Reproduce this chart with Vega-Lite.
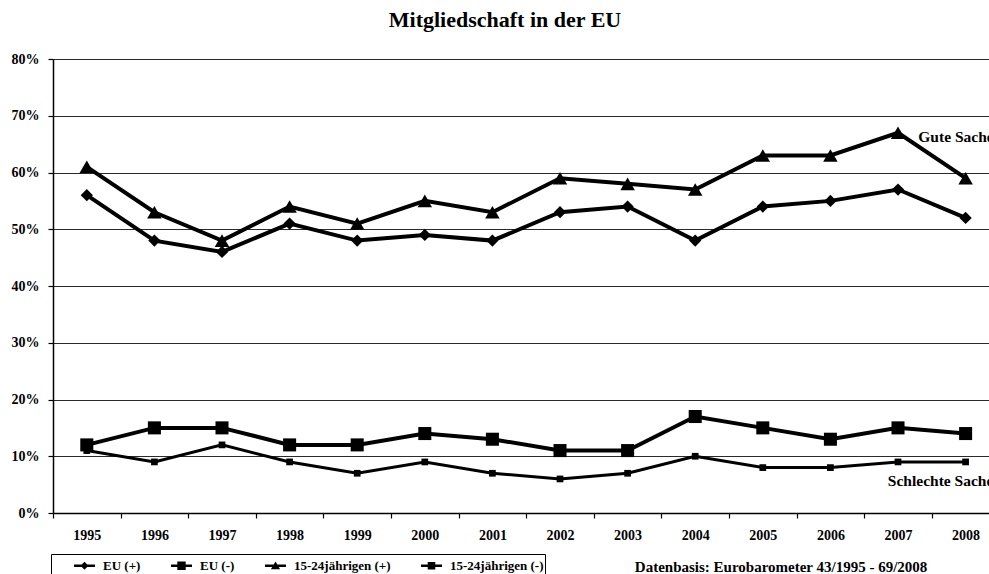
{
  "$schema": "https://vega.github.io/schema/vega-lite/v6.json",
  "width": 936,
  "height": 454,
  "autosize": {"type": "none"},
  "padding": {"left": 53, "top": 59, "right": 0, "bottom": 61},
  "background": "white",
  "title": {
    "text": "Mitgliedschaft in der EU",
    "font": "Liberation Serif",
    "fontWeight": "bold",
    "fontSize": 22,
    "color": "black",
    "anchor": "middle",
    "frame": "group",
    "baseline": "alphabetic",
    "offset": 3,
    "dx": -16
  },
  "config": {
    "view": {"stroke": null},
    "font": "Liberation Serif"
  },
  "datasets": {
    "main": [
      {"series": "15-24jährigen (+)", "year": 1995, "value": 61},
      {"series": "15-24jährigen (+)", "year": 1996, "value": 53},
      {"series": "15-24jährigen (+)", "year": 1997, "value": 48},
      {"series": "15-24jährigen (+)", "year": 1998, "value": 54},
      {"series": "15-24jährigen (+)", "year": 1999, "value": 51},
      {"series": "15-24jährigen (+)", "year": 2000, "value": 55},
      {"series": "15-24jährigen (+)", "year": 2001, "value": 53},
      {"series": "15-24jährigen (+)", "year": 2002, "value": 59},
      {"series": "15-24jährigen (+)", "year": 2003, "value": 58},
      {"series": "15-24jährigen (+)", "year": 2004, "value": 57},
      {"series": "15-24jährigen (+)", "year": 2005, "value": 63},
      {"series": "15-24jährigen (+)", "year": 2006, "value": 63},
      {"series": "15-24jährigen (+)", "year": 2007, "value": 67},
      {"series": "15-24jährigen (+)", "year": 2008, "value": 59},
      {"series": "EU (+)", "year": 1995, "value": 56},
      {"series": "EU (+)", "year": 1996, "value": 48},
      {"series": "EU (+)", "year": 1997, "value": 46},
      {"series": "EU (+)", "year": 1998, "value": 51},
      {"series": "EU (+)", "year": 1999, "value": 48},
      {"series": "EU (+)", "year": 2000, "value": 49},
      {"series": "EU (+)", "year": 2001, "value": 48},
      {"series": "EU (+)", "year": 2002, "value": 53},
      {"series": "EU (+)", "year": 2003, "value": 54},
      {"series": "EU (+)", "year": 2004, "value": 48},
      {"series": "EU (+)", "year": 2005, "value": 54},
      {"series": "EU (+)", "year": 2006, "value": 55},
      {"series": "EU (+)", "year": 2007, "value": 57},
      {"series": "EU (+)", "year": 2008, "value": 52},
      {"series": "EU (-)", "year": 1995, "value": 12},
      {"series": "EU (-)", "year": 1996, "value": 15},
      {"series": "EU (-)", "year": 1997, "value": 15},
      {"series": "EU (-)", "year": 1998, "value": 12},
      {"series": "EU (-)", "year": 1999, "value": 12},
      {"series": "EU (-)", "year": 2000, "value": 14},
      {"series": "EU (-)", "year": 2001, "value": 13},
      {"series": "EU (-)", "year": 2002, "value": 11},
      {"series": "EU (-)", "year": 2003, "value": 11},
      {"series": "EU (-)", "year": 2004, "value": 17},
      {"series": "EU (-)", "year": 2005, "value": 15},
      {"series": "EU (-)", "year": 2006, "value": 13},
      {"series": "EU (-)", "year": 2007, "value": 15},
      {"series": "EU (-)", "year": 2008, "value": 14},
      {"series": "15-24jährigen (-)", "year": 1995, "value": 11},
      {"series": "15-24jährigen (-)", "year": 1996, "value": 9},
      {"series": "15-24jährigen (-)", "year": 1997, "value": 12},
      {"series": "15-24jährigen (-)", "year": 1998, "value": 9},
      {"series": "15-24jährigen (-)", "year": 1999, "value": 7},
      {"series": "15-24jährigen (-)", "year": 2000, "value": 9},
      {"series": "15-24jährigen (-)", "year": 2001, "value": 7},
      {"series": "15-24jährigen (-)", "year": 2002, "value": 6},
      {"series": "15-24jährigen (-)", "year": 2003, "value": 7},
      {"series": "15-24jährigen (-)", "year": 2004, "value": 10},
      {"series": "15-24jährigen (-)", "year": 2005, "value": 8},
      {"series": "15-24jährigen (-)", "year": 2006, "value": 8},
      {"series": "15-24jährigen (-)", "year": 2007, "value": 9},
      {"series": "15-24jährigen (-)", "year": 2008, "value": 9}
    ],
    "notes": [
      {"label": "Gute Sache", "year": 2007.3, "value": 66.3},
      {"label": "Schlechte Sache", "year": 2006.85, "value": 5.6}
    ],
    "source": [
      {"label": "Datenbasis: Eurobarometer 43/1995 - 69/2008", "year": 2005.27, "value": -9.5}
    ]
  },
  "encoding": {
    "x": {
      "field": "year",
      "type": "quantitative",
      "scale": {"domain": [1994.5, 2008.346], "nice": false, "zero": false},
      "axis": {
        "title": null,
        "values": [1994.5, 1995, 1995.5, 1996, 1996.5, 1997, 1997.5, 1998, 1998.5, 1999, 1999.5, 2000, 2000.5, 2001, 2001.5, 2002, 2002.5, 2003, 2003.5, 2004, 2004.5, 2005, 2005.5, 2006, 2006.5, 2007, 2007.5, 2008],
        "labelExpr": "datum.value % 1 === 0 ? format(datum.value, 'd') : ''",
        "tickOpacity": {"condition": {"test": "datum.value % 1 === 0", "value": 0}, "value": 1},
        "labelOverlap": false,
        "labelFlush": false,
        "grid": false,
        "domainColor": "black",
        "domainWidth": 1.5,
        "tickColor": "black",
        "tickWidth": 1.2,
        "tickSize": 5,
        "labelPadding": 10,
        "labelFont": "Liberation Serif",
        "labelFontWeight": "bold",
        "labelFontSize": 14,
        "labelColor": "black"
      }
    },
    "y": {
      "field": "value",
      "type": "quantitative",
      "scale": {"domain": [0, 80], "nice": false, "zero": false},
      "axis": {
        "title": null,
        "values": [0, 10, 20, 30, 40, 50, 60, 70, 80],
        "labelExpr": "datum.value + '%'",
        "grid": true,
        "gridColor": "#2a2a2a",
        "gridWidth": 1.2,
        "domainColor": "black",
        "domainWidth": 1.5,
        "tickColor": "black",
        "tickWidth": 1.2,
        "tickSize": 5,
        "labelPadding": 9,
        "labelFont": "Liberation Serif",
        "labelFontWeight": "bold",
        "labelFontSize": 14,
        "labelColor": "black"
      }
    }
  },
  "layer": [
    {
      "data": {"name": "main"},
      "mark": {"type": "line", "color": "black", "strokeJoin": "miter"},
      "encoding": {
        "strokeWidth": {
          "field": "series",
          "type": "nominal",
          "scale": {"type": "ordinal", "domain": ["EU (+)", "EU (-)", "15-24jährigen (+)", "15-24jährigen (-)"], "range": [4, 4, 4, 3]},
          "legend": null
        }
      }
    },
    {
      "data": {"name": "main"},
      "mark": {"type": "point", "filled": true, "color": "black", "opacity": 1},
      "encoding": {
        "shape": {
          "field": "series",
          "type": "nominal",
          "scale": {"domain": ["EU (+)", "EU (-)", "15-24jährigen (+)", "15-24jährigen (-)"], "range": ["diamond", "square", "triangle-up", "square"]},
          "legend": null
        },
        "size": {
          "field": "series",
          "type": "nominal",
          "scale": {"type": "ordinal", "domain": ["EU (+)", "EU (-)", "15-24jährigen (+)", "15-24jährigen (-)"], "range": [150, 170, 210, 45]},
          "legend": null
        }
      }
    },
    {
      "data": {"name": "main"},
      "mark": {"type": "point", "filled": true, "color": "black", "opacity": 0},
      "encoding": {
        "shape": {
          "field": "series",
          "type": "nominal",
          "scale": {
            "domain": ["EU (+)", "EU (-)", "15-24jährigen (+)", "15-24jährigen (-)"],
            "range": [
              "M-1,-0.13H1V0.13H-1ZM0,-0.38L0.38,0L0,0.38L-0.38,0Z",
              "M-1,-0.13H1V0.13H-1ZM-0.4,-0.4H0.4V0.4H-0.4Z",
              "M-1,-0.13H1V0.13H-1ZM0,-0.4L0.44,0.34H-0.44Z",
              "M-1,-0.13H1V0.13H-1ZM-0.36,-0.36H0.36V0.36H-0.36Z"
            ]
          },
          "legend": {
            "title": " ",
            "titleOrient": "left",
            "titlePadding": 22,
            "titleFontSize": 4,
            "orient": "none",
            "legendX": -2,
            "legendY": 495,
            "direction": "horizontal",
            "columns": 4,
            "columnPadding": 30,
            "padding": 1,
            "strokeColor": "black",
            "fillColor": "white",
            "symbolSize": 441,
            "symbolOpacity": 1,
            "symbolFillColor": "black",
            "symbolStrokeWidth": 0,
            "labelOffset": 8,
            "labelFont": "Liberation Serif",
            "labelFontWeight": "bold",
            "labelFontSize": 13,
            "labelColor": "black",
            "labelLimit": 300,
            "encode": {"legend": {"update": {"strokeWidth": {"value": 1.3}}}}
          }
        }
      }
    },
    {
      "data": {"name": "notes"},
      "mark": {"type": "text", "align": "left", "baseline": "middle", "font": "Liberation Serif", "fontWeight": "bold", "fontSize": 15.5, "color": "black"},
      "encoding": {"text": {"field": "label"}}
    },
    {
      "data": {"name": "source"},
      "mark": {"type": "text", "align": "center", "baseline": "middle", "font": "Liberation Serif", "fontWeight": "bold", "fontSize": 15, "color": "black"},
      "encoding": {"text": {"field": "label"}}
    }
  ],
  "resolve": {"scale": {"shape": "independent", "size": "independent", "strokeWidth": "independent"}, "legend": {"shape": "independent"}}
}
